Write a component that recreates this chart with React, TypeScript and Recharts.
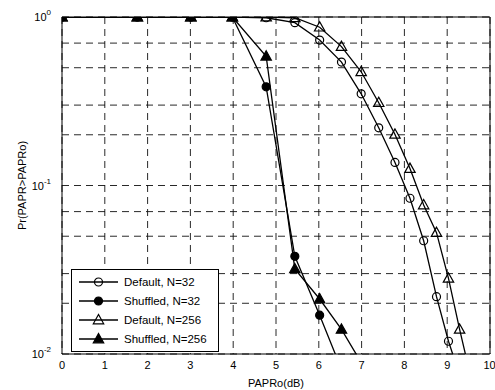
import {
  CartesianGrid,
  Label,
  Legend,
  Line,
  LineChart,
  ReferenceArea,
  XAxis,
  YAxis,
} from "recharts";

// PAPRo thresholds in dB (shared x positions of all markers)
const papr = [0, 1.76, 3.01, 3.98, 4.77, 5.44, 6.02, 6.53, 6.99, 7.4, 7.78, 8.13, 8.45, 8.75, 9.03, 9.29, 9.54];

const defaultN32 = [1, 1, 1, 1, 0.99, 0.925, 0.73, 0.54, 0.35, 0.22, 0.137, 0.084, 0.047, 0.0219, 0.0119, 0.0075];
const shuffledN32 = [1, 1, 1, 1, 0.385, 0.038, 0.017, 0.0081];
const defaultN256 = [1, 1, 1, 1, 1, 0.99, 0.87, 0.667, 0.473, 0.31, 0.201, 0.126, 0.0766, 0.0525, 0.0281, 0.014, 0.0075];
const shuffledN256 = [1, 1, 1, 1, 0.585, 0.032, 0.0212, 0.014, 0.0089];

const xTicks = [0, 1, 2, 3, 4, 5, 6, 7, 8, 9, 10];
const yTicks = [
  0.01, 0.02, 0.03, 0.04, 0.05, 0.06, 0.07, 0.08, 0.09,
  0.1, 0.2, 0.3, 0.4, 0.5, 0.6, 0.7, 0.8, 0.9, 1,
];

const FONT = "'Liberation Sans', Arial, sans-serif";
const W = 495;
const H = 390;

type Shape = "circle" | "triangle";

interface Series {
  name: string;
  values: number[];
  shape: Shape;
  filled: boolean;
}

const series: Series[] = [
  { name: "Default, N=32", values: defaultN32, shape: "circle", filled: false },
  { name: "Shuffled, N=32", values: shuffledN32, shape: "circle", filled: true },
  { name: "Default, N=256", values: defaultN256, shape: "triangle", filled: false },
  { name: "Shuffled, N=256", values: shuffledN256, shape: "triangle", filled: true },
];

function toRows(values: number[]) {
  return values.map((y, i) => ({ x: papr[i], y }));
}

function Marker({ cx, cy, shape, filled }: { cx: number; cy: number; shape: Shape; filled: boolean }) {
  const fill = filled ? "#000" : "none";
  if (shape === "circle") {
    return <circle cx={cx} cy={cy} r={4} fill={fill} stroke="#000" strokeWidth={1.2} />;
  }
  return (
    <polygon
      points={`${cx},${cy - 5.5} ${cx - 5.2},${cy + 3.8} ${cx + 5.2},${cy + 3.8}`}
      fill={fill}
      stroke="#000"
      strokeWidth={1.2}
    />
  );
}

function makeDot(shape: Shape, filled: boolean) {
  return (p: any) => {
    const { cx, cy, payload, index } = p;
    if (cx == null || cy == null || payload.y < 0.01) return <g key={`d-${index}`} />;
    return (
      <g key={`d-${index}`}>
        <Marker cx={cx} cy={cy} shape={shape} filled={filled} />
      </g>
    );
  };
}

function YTick({ x, y, payload }: any) {
  const v = payload.value as number;
  const lg = Math.log10(v);
  const exp = Math.round(lg);
  if (Math.abs(lg - exp) > 1e-6) return <g />;
  return (
    <text x={x} y={y + 4} textAnchor="end" fontSize={11} fill="#000" fontFamily={FONT}>
      <tspan>10</tspan>
      <tspan dy={-6} fontSize={8}>
        {exp}
      </tspan>
    </text>
  );
}

function LegendBox() {
  return (
    <div
      style={{
        border: "1px solid #000",
        background: "#fff",
        padding: "3px 0 3px 0",
        fontFamily: FONT,
        fontSize: 11.5,
        color: "#000",
      }}
    >
      {series.map((s) => (
        <div key={s.name} style={{ display: "flex", alignItems: "center", height: 18.8 }}>
          <svg width={46} height={14} style={{ marginLeft: 6 }}>
            <line x1={1} y1={7} x2={40} y2={7} stroke="#000" strokeWidth={1.3} />
            <Marker cx={20.5} cy={7} shape={s.shape} filled={s.filled} />
          </svg>
          <span>{s.name}</span>
        </div>
      ))}
    </div>
  );
}

export default function App() {
  return (
    <div style={{ position: "absolute", left: 0, top: 0, width: W, height: H, fontFamily: FONT, background: "#fff" }}>
      <LineChart width={W} height={H} margin={{ top: 17, right: 5, left: 0, bottom: 0 }}>
        <CartesianGrid stroke="#111" strokeDasharray="7 5" strokeWidth={0.9} />
        <XAxis
          dataKey="x"
          type="number"
          domain={[0, 10]}
          ticks={xTicks}
          allowDataOverflow
          height={36}
          axisLine={false}
          tickLine={false}
          tickSize={5}
          tickMargin={2}
          tick={{ fontSize: 11, fill: "#000", fontFamily: FONT }}
        >
          <Label
            value="PAPRo(dB)"
            position="insideBottom"
            offset={3}
            style={{ fontSize: 11, fill: "#000", fontFamily: FONT }}
          />
        </XAxis>
        <YAxis
          type="number"
          scale="log"
          domain={[0.01, 1]}
          ticks={yTicks}
          allowDataOverflow
          width={62}
          axisLine={false}
          tickLine={false}
          tickSize={0}
          tickMargin={11}
          tick={<YTick />}
        >
          <Label
            content={({ viewBox }: any) => {
              const cy = viewBox.y + viewBox.height / 2;
              return (
                <text
                  x={26}
                  y={cy}
                  transform={`rotate(-90 26 ${cy})`}
                  textAnchor="middle"
                  fontSize={11}
                  fill="#000"
                  fontFamily={FONT}
                >
                  Pr(PAPR&gt;PAPRo)
                </text>
              );
            }}
          />
        </YAxis>
        <ReferenceArea x1={0} x2={10} y1={0.01} y2={1} fill="none" stroke="#000" strokeWidth={1} />
        {series.map((s) => (
          <Line
            key={s.name}
            data={toRows(s.values)}
            dataKey="y"
            name={s.name}
            stroke="#000"
            strokeWidth={1.3}
            dot={makeDot(s.shape, s.filled)}
            activeDot={false}
            isAnimationActive={false}
          />
        ))}
        <Legend
          layout="vertical"
          align="center"
          verticalAlign="middle"
          wrapperStyle={{ left: 71, top: 269, width: 148 }}
          content={() => <LegendBox />}
        />
      </LineChart>
    </div>
  );
}
